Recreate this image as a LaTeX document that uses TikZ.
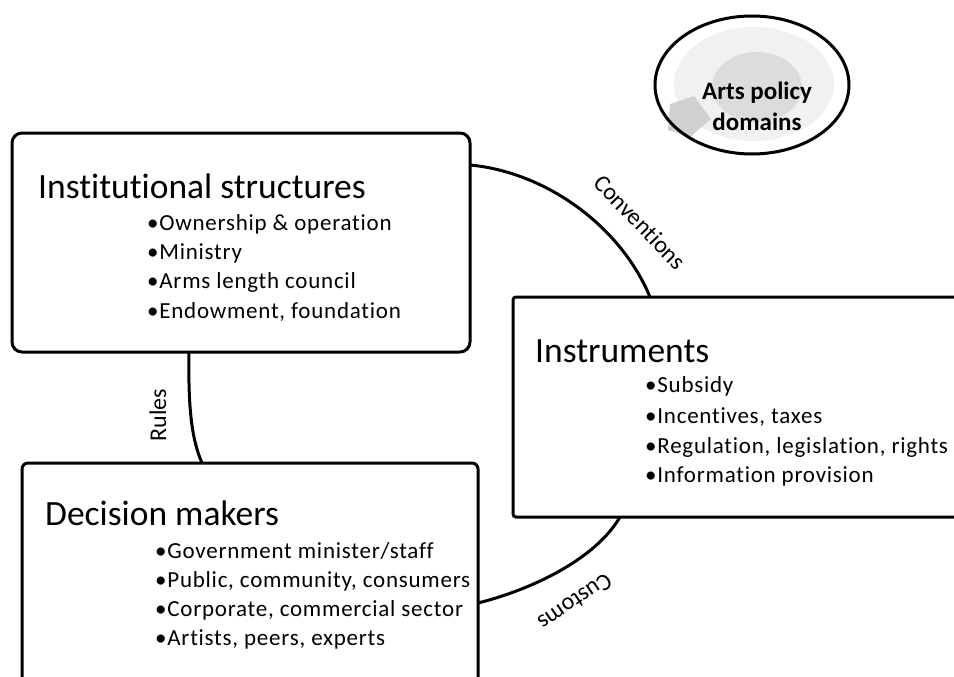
\documentclass[tikz,border=0pt]{standalone}
\usepackage{fontspec}
\setmainfont{Carlito}[Ligatures=NoCommon]
\usetikzlibrary{calc}
\definecolor{lightfill}{RGB}{241,241,241}
\definecolor{midfill}{RGB}{220,220,220}
\definecolor{arrowfill}{RGB}{208,208,208}
\tikzset{
  box/.style={draw, line width=3pt, fill=white, inner sep=0pt, outer sep=0pt},
  link/.style={line width=3pt},
  titletext/.style={anchor=base west, inner sep=0pt, font=\fontsize{35.5}{40}\selectfont},
  itemtext/.style={anchor=base west, inner sep=0pt, font=\fontsize{23}{28}\selectfont\addfontfeature{LetterSpace=3.3}},
  linklabel/.style={inner sep=0pt, font=\fontsize{24}{28}\selectfont}
}
\begin{document}
\begin{tikzpicture}[x=1pt,y=-1pt]
\useasboundingbox (0,0) rectangle (954,677);
\clip (0,0) rectangle (954,677);
\fill[white] (0,0) rectangle (954,677);

% Arts policy domains
\fill[lightfill] (754,84) ellipse [x radius=80, y radius=57];
\fill[midfill] (757,87) ellipse [x radius=45, y radius=35];
\fill[arrowfill] (670,104) -- (694,96) -- (711,119) -- (690,137) -- (668,130) -- cycle;
\draw[line width=3pt] (752,85) ellipse [x radius=97, y radius=69];
\node[inner sep=0pt, align=center, font=\bfseries\fontsize{25}{31}\selectfont] (arts) at (757,106) {Arts policy\\domains};

% boxes
\node[box, rounded corners=10pt, minimum width=458pt, minimum height=219pt] (inst) at (241,242.5) {};
\node[box, rounded corners=3pt, minimum width=470pt, minimum height=220pt] (instr) at (748,407) {};
\node[box, rounded corners=6pt, minimum width=456pt, minimum height=250pt] (dec) at (250,588) {};

% connectors
\draw[link] ($(inst.north east)+(0,32)$) .. controls (545,172) and (620,225) .. ($(instr.north west)+(137,0)$);
\draw[link] ($(inst.south west)+(177,0)$) .. controls (188,410) and (192,440) .. ($(dec.north west)+(180,0)$);
\draw[link] ($(dec.north east)+(0,140)$) .. controls (530,590) and (595,560) .. ($(instr.south west)+(107,0)$);

\node[linklabel, rotate=-46] (lconv) at (640,222) {Conventions};
\node[linklabel, rotate=90] (lrules) at (158,415) {Rules};
\node[linklabel, rotate=214] (lcust) at (575,602) {Customs};

% texts
\node[titletext] (t1) at (38,198) {Institutional structures};
\node[itemtext] (i11) at (147,230) {•Ownership \& operation};
\node[itemtext] (i12) at (147,259) {•Ministry};
\node[itemtext] (i13) at (147,288) {•Arms length council};
\node[itemtext] (i14) at (147,318) {•Endowment, foundation};

\node[titletext] (t2) at (535,362) {Instruments};
\node[itemtext] (i21) at (645,392) {•Subsidy};
\node[itemtext] (i22) at (645,423) {•Incentives, taxes};
\node[itemtext] (i23) at (645,453) {•Regulation, legislation, rights};
\node[itemtext] (i24) at (645,482) {•Information provision};

\node[titletext] (t3) at (45,525) {Decision makers};
\node[itemtext] (i31) at (155,558) {•Government minister/staff};
\node[itemtext] (i32) at (155,587) {•Public, community, consumers};
\node[itemtext] (i33) at (155,616) {•Corporate, commercial sector};
\node[itemtext] (i34) at (155,645) {•Artists, peers, experts};
\end{tikzpicture}
\end{document}
